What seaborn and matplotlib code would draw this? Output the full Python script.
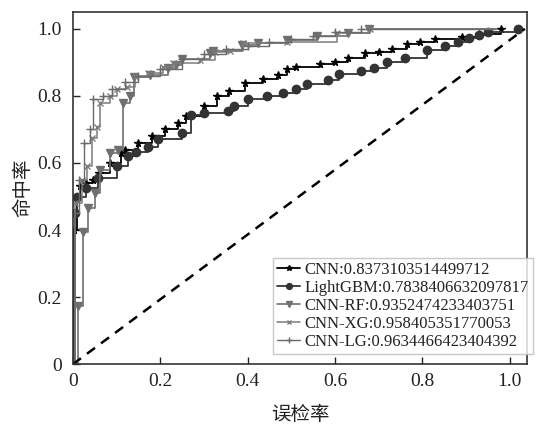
import numpy as np
import pandas as pd
import matplotlib
matplotlib.use("Agg")
import matplotlib.pyplot as plt
import seaborn as sns

sns.set_theme(style="white")
plt.rcParams['font.family'] = ['Liberation Serif', 'Noto Sans CJK SC']

# ---- data ----
cnn_x = [0, 0.003, 0.01, 0.016, 0.03, 0.046, 0.06, 0.085, 0.11, 0.12, 0.15, 0.18, 0.21, 0.24,
         0.26, 0.30, 0.33, 0.358, 0.394, 0.436, 0.47, 0.49, 0.51, 0.567, 0.60, 0.63, 0.67,
         0.70, 0.73, 0.766, 0.796, 0.83, 0.89, 0.93, 0.98]
cnn_y = [0, 0.40, 0.50, 0.53, 0.54, 0.55, 0.57, 0.60, 0.63, 0.64, 0.66, 0.68, 0.70, 0.72,
         0.74, 0.77, 0.80, 0.815, 0.839, 0.851, 0.863, 0.88, 0.887, 0.896, 0.90, 0.913, 0.928,
         0.93, 0.94, 0.955, 0.96, 0.97, 0.976, 0.985, 1.0]

lgb_x = [0, 0.004, 0.01, 0.03, 0.057, 0.10, 0.126, 0.145, 0.172, 0.195, 0.25, 0.27, 0.30,
         0.355, 0.37, 0.40, 0.445, 0.48, 0.51, 0.535, 0.585, 0.61, 0.66, 0.69, 0.72, 0.76,
         0.81, 0.853, 0.883, 0.906, 0.93, 0.95, 1.02]
lgb_y = [0, 0.45, 0.50, 0.525, 0.555, 0.59, 0.62, 0.633, 0.648, 0.67, 0.69, 0.743, 0.75,
         0.755, 0.77, 0.79, 0.80, 0.81, 0.82, 0.836, 0.848, 0.866, 0.875, 0.884, 0.90, 0.913,
         0.937, 0.95, 0.96, 0.973, 0.982, 0.99, 1.0]

rf_x = [0, 0.012, 0.023, 0.034, 0.05, 0.062, 0.085, 0.103, 0.115, 0.13, 0.14, 0.177, 0.218,
        0.236, 0.25, 0.314, 0.32, 0.388, 0.424, 0.49, 0.56, 0.63, 0.677, 0.97]
rf_y = [0, 0.175, 0.394, 0.465, 0.51, 0.58, 0.63, 0.64, 0.78, 0.80, 0.855, 0.863, 0.884,
        0.893, 0.91, 0.928, 0.934, 0.952, 0.958, 0.967, 0.98, 0.988, 1.0, 1.0]

xg_x = [0, 0.004, 0.02, 0.032, 0.044, 0.055, 0.062, 0.085, 0.10, 0.124, 0.142, 0.172, 0.206,
        0.23, 0.29, 0.326, 0.36, 0.39, 0.49, 0.605, 0.68, 0.97]
xg_y = [0, 0.48, 0.55, 0.59, 0.675, 0.707, 0.78, 0.80, 0.82, 0.827, 0.86, 0.869, 0.887,
        0.898, 0.907, 0.93, 0.935, 0.958, 0.96, 0.988, 1.0, 1.0]

lg_x = [0, 0.003, 0.015, 0.025, 0.04, 0.045, 0.07, 0.09, 0.12, 0.15, 0.2, 0.25, 0.3, 0.35,
        0.4, 0.45, 0.5, 0.55, 0.6, 0.66, 0.97]
lg_y = [0, 0.45, 0.55, 0.66, 0.70, 0.79, 0.80, 0.82, 0.84, 0.86, 0.88, 0.91, 0.925, 0.94,
        0.95, 0.96, 0.97, 0.98, 0.99, 1.0, 1.0]

diag_x = [0, 1.035]
diag_y = [0, 1.0]

labels = ["CNN:0.8373103514499712", "LightGBM:0.7838406632097817",
          "CNN-RF:0.9352474233403751", "CNN-XG:0.958405351770053",
          "CNN-LG:0.9634466423404392"]
xticks = [0, 0.2, 0.4, 0.6, 0.8, 1.0]
xticklabels = ["0", "0.2", "0.4", "0.6", "0.8", "1.0"]
yticks = [0, 0.2, 0.4, 0.6, 0.8, 1.0]
yticklabels = ["0", "0.2", "0.4", "0.6", "0.8", "1.0"]
xlabel = "误检率"
ylabel = "命中率"

# ---- plot ----
fig = plt.figure(figsize=(5.4, 4.3), dpi=100)
ax = fig.add_axes([0.135, 0.153, 0.841, 0.819])

series = [
    (cnn_x, cnn_y, labels[0], "#000000", "*", 5.5, 1.3, slice(1, None)),
    (lgb_x, lgb_y, labels[1], "#333333", "o", 6, 1.3, slice(1, None)),
    (rf_x, rf_y, labels[2], "#6f6f6f", "v", 5.5, 1.2, slice(1, -1)),
    (xg_x, xg_y, labels[3], "#7c7c7c", "x", 4.5, 1.1, slice(1, -1)),
    (lg_x, lg_y, labels[4], "#6a6a6a", "+", 5.5, 1.0, slice(1, -1)),
]
for xs, ys, lab, col, mk, ms, lw, me in series:
    sns.lineplot(x=xs, y=ys, ax=ax, label=lab, color=col, marker=mk, markersize=ms,
                 linewidth=lw, estimator=None, sort=False, drawstyle="steps-post",
                 markevery=me, markeredgecolor=col, markerfacecolor=col, markeredgewidth=1.0)

sns.lineplot(x=diag_x, y=diag_y, ax=ax, color="black", linestyle=(0, (4, 3)), linewidth=1.8,
             estimator=None, sort=False)

ax.set_xlim(0, 1.04)
ax.set_ylim(0, 1.05)
ax.set_xticks(xticks)
ax.set_xticklabels(xticklabels)
ax.set_yticks(yticks)
ax.set_yticklabels(yticklabels)
ax.tick_params(direction="in", length=5, width=1, labelsize=14, colors="#222222",
               top=False, right=False, bottom=True, left=True)
ax.tick_params(axis="x", pad=6)
ax.tick_params(axis="y", pad=8)
for s in ax.spines.values():
    s.set_color("#333333")
    s.set_linewidth(1.2)

ax.set_xlabel(xlabel, fontsize=14, labelpad=12, color="#222222")
ax.set_ylabel(ylabel, fontsize=14, labelpad=4, color="#222222")

leg = ax.legend(loc="lower left", bbox_to_anchor=(0.44, 0.028), fontsize=12,
                frameon=True, fancybox=False, edgecolor="#bbbbbb", handlelength=1.4,
                handletextpad=0.25, labelspacing=0.12, borderpad=0.25, borderaxespad=0,
                markerscale=0.7)
leg.get_frame().set_linewidth(1.0)
for t in leg.get_texts():
    t.set_color("#222222")

fig.savefig("out.png", dpi=100)
